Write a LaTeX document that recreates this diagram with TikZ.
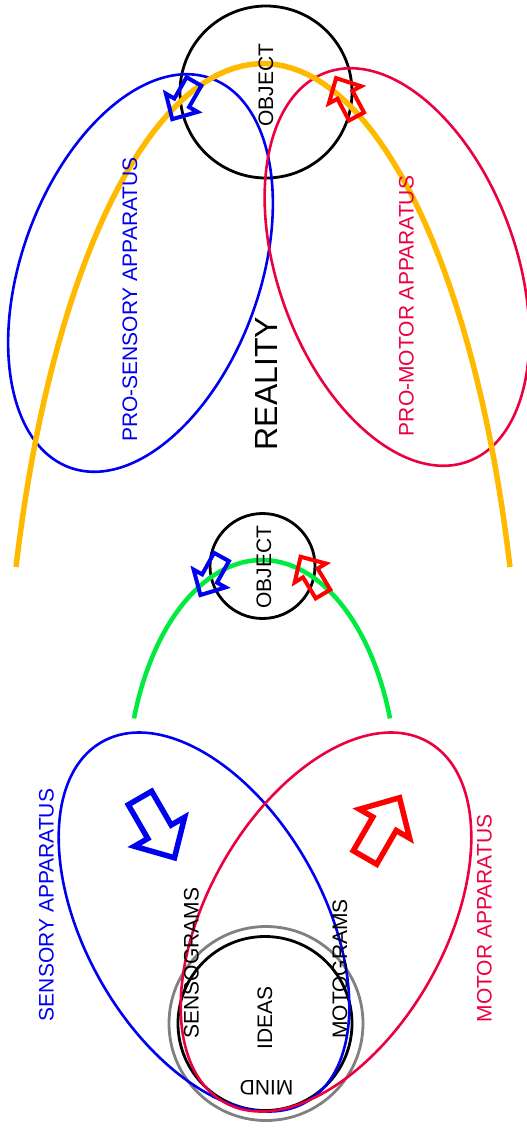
\documentclass[tikz,border=0pt]{standalone}
\usepackage{fontspec}
\setmainfont{Liberation Sans}
\definecolor{sensblue}{RGB}{0,0,240}
\definecolor{motorred}{RGB}{235,0,64}
\definecolor{arrred}{RGB}{255,0,0}
\definecolor{realorange}{RGB}{255,186,0}
\definecolor{mindgreen}{RGB}{0,235,64}
\definecolor{mindgray}{RGB}{128,128,128}

\begin{document}
\begin{tikzpicture}[x=1pt,y=-1pt,
  lbl/.style={font=\fontsize{21}{25}\selectfont,rotate=90,inner sep=0pt},
  apparatus/.style={line width=2.6pt},
  ring/.style={line width=2.8pt},
  flow/.style={line width=4.5pt}]
\useasboundingbox (0,0) rectangle (527,1128);
% circles
\draw[ring] (266,92) circle[radius=86];
\draw[ring] (262.5,566) circle[radius=52.5];
\draw[ring,mindgray] (266,1023.5) circle[radius=97];
\draw[ring] (265,1023.5) circle[radius=87];
% apparatus ellipses: x/y of centre, tilt, colour
\foreach \x/\y/\a/\c in {140.5/273/70/sensblue,397/267/110/motorred,
    204/922/-60.5/sensblue,326/922/60.5/motorred}
  \draw[apparatus,\c,rotate around={\a:(\x,\y)}] (\x,\y) ellipse[x radius=207,y radius=119];
% reality and mind boundaries
\draw[flow,realorange,line width=5.5pt] plot[domain=198.2:341.8,samples=80] ({263+260*cos(\x)},{795.6+732*sin(\x)});
\draw[flow,mindgreen] plot[domain=198.5:341.5,samples=60] ({262+135*cos(\x)},{792+232*sin(\x)});
% hollow arrows
\foreach \x/\y/\a/\s/\w/\c in {140/798/-60/1/5.5pt/sensblue,365/857.5/60/1/5.5pt/arrred,
    194/81.5/-120/0.63/4pt/sensblue,356.5/116.5/118/0.63/4pt/arrred,
    221.5/557/-119/0.63/4pt/sensblue,323/594/121/0.63/4pt/arrred}
  \draw[\c,line width=\w,shift={(\x,\y)},rotate=\a,scale=\s]
    (0,-13.5) -- (39,-13.5) -- (39,-29) -- (69,0) -- (39,29) -- (39,13.5) -- (0,13.5) -- cycle;
% labels
\node[lbl] (objtop) at (266,85) {OBJECT};
\node[lbl] (objlow) at (264,567) {OBJECT};
\node[lbl,font=\fontsize{32}{38}\selectfont] (reality) at (266.5,383.5) {REALITY};
\node[lbl,sensblue] (prosens) at (130,299.5) {PRO-SENSORY APPARATUS};
\node[lbl,motorred] (promotor) at (406.5,306) {PRO-MOTOR APPARATUS};
\node[lbl,sensblue] (sens) at (46.5,905) {SENSORY APPARATUS};
\node[lbl,motorred] (motor) at (484.5,918.5) {MOTOR APPARATUS};
\node[lbl] (sensog) at (191.5,963) {SENSOGRAMS};
\node[lbl] (motog) at (340,969) {MOTOGRAMS};
\node[lbl] (ideas) at (265,1018) {IDEAS};
\node[lbl,rotate=90] (mind) at (266.5,1087.5) {MIND};
\end{tikzpicture}
\end{document}
